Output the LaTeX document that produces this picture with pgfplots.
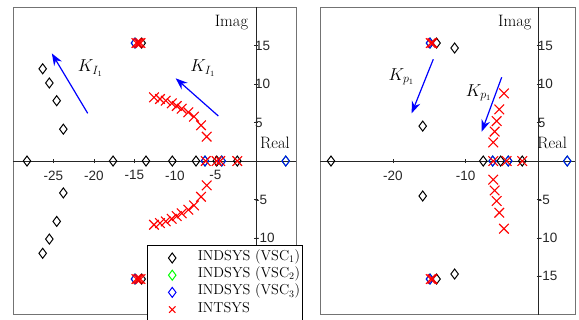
\documentclass[border=0pt]{standalone}
\usepackage{pgfplots}
\pgfplotsset{compat=1.18}
\usepackage{fontspec}
\newfontfamily\tickfont{Liberation Sans}
\usetikzlibrary{arrows.meta}
\definecolor{vgreen}{rgb}{0,1,0}
\definecolor{vblue}{rgb}{0,0,1}
\definecolor{vred}{rgb}{1,0,0}
\tikzset{
  lbl/.style={inner sep=0pt, font=\fontsize{16.5}{16.5}\selectfont},
  arr/.style={vblue, line width=1.2pt, -{Stealth[length=12pt, width=9pt, inset=4pt]}},
}
\begin{document}
\begin{tikzpicture}
\useasboundingbox (0,0) rectangle (579pt,320pt);
\pgfplotsset{
  pz/.style={
    scale only axis, height=307.5pt, anchor=south west,
    xmin=-30,xmax=5,ymin=-20,ymax=20,
    axis lines=middle, axis line style={-, black!85, line width=0.6pt},
    axis background/.style={draw=black!55, line width=0.9pt},
    ytick={-15,-10,-5,5,10,15},
    tick style={black!85, line width=0.6pt},
    major tick length=4pt,
    ticklabel style={font=\tickfont\fontsize{13.5}{13.5}\selectfont, text=black!85},
    /pgf/number format/assume math mode=true,
    yticklabel style={anchor=west, inner xsep=1pt},
    xticklabel style={yshift=-4pt},
  },
  vsc1/.style={only marks, mark=diamond, mark size=5pt, black, line width=1pt},
  vsc2/.style={only marks, mark=diamond, mark size=5pt, vgreen, line width=1pt},
  vsc3/.style={only marks, mark=diamond, mark size=5pt, vblue, line width=1pt},
  ints/.style={only marks, mark=x, mark size=6.8pt, vred, line width=1.1pt},
}
% ---------------- left panel ----------------
\begin{axis}[pz, width=283.3pt, at={(13pt,5.2pt)},
  xtick={-25,-20,-15,-10,-5},
  ytick={-10,-5,5,10,15},
  legend cell align=left,
  legend style={at={(axis description cs:0.474,0.227)}, anchor=north west,
    draw=black, line width=0.8pt, fill=white,
    font=\fontsize{14.4}{17}\selectfont,
    inner xsep=0pt, inner ysep=4pt, row sep=0pt,
    nodes={inner ysep=0pt, inner xsep=2pt, text height=11.2pt, text depth=6pt}},
  legend image code/.code={\path (-24pt,0) (23pt,0); \draw[#1] plot coordinates {(0pt,0pt)};},
]
\addplot[vsc1, forget plot] coordinates {
 (-28.27,0) (-17.64,0) (-13.57,0) (-10.32,0) (-7.39,0) (-4.83,0) (-2.29,0)
 (-26.33,12.0) (-25.51,10.15) (-24.6,7.85) (-23.78,4.15)
 (-26.33,-12.0) (-25.51,-10.15) (-24.6,-7.85) (-23.78,-4.15)
 (-14.1,15.35) (-14.1,-15.35)};
\addplot[vsc2, forget plot] coordinates {
 (-14.93,15.35) (-14.93,-15.35) (-6.28,0) (-4.21,0) (3.7,0)};
\addplot[vsc3, forget plot] coordinates {
 (-14.93,15.35) (-14.93,-15.35) (-6.28,0) (-4.21,0) (3.7,0)};
\addplot[ints, forget plot] coordinates {
 (-12.58,8.29) (-11.84,8.07) (-11.13,7.85) (-10.39,7.51) (-9.77,7.16)
 (-9.16,6.81) (-8.34,6.34) (-7.64,5.77) (-6.77,4.65) (-6.07,3.17)
 (-12.58,-8.29) (-11.84,-8.07) (-11.13,-7.85) (-10.39,-7.51) (-9.77,-7.16)
 (-9.16,-6.81) (-8.34,-6.34) (-7.64,-5.77) (-6.77,-4.65) (-6.07,-3.17)
 (-6.19,0) (-4.85,0) (-4.4,0) (-2.29,0)
 (-14.75,15.35) (-14.5,15.35) (-14.25,15.35)
 (-14.75,-15.35) (-14.5,-15.35) (-14.25,-15.35)};
\addlegendimage{vsc1}
\addlegendentry{INDSYS (VSC$_1$)}
\addlegendimage{vsc2}
\addlegendentry{INDSYS (VSC$_2$)}
\addlegendimage{vsc3}
\addlegendentry{INDSYS (VSC$_3$)}
\addlegendimage{ints, mark size=4.5pt}
\addlegendentry{INTSYS}
\node[lbl, anchor=base east] at (axis cs:-0.93,17.48) {Imag};
\node[lbl, anchor=base west] at (axis cs:0.52,1.66) {Real};
\node[lbl, anchor=base west] at (axis cs:-22.0,11.6) {$K_{I_1}$};
\node[lbl, anchor=base west] at (axis cs:-8.1,11.6) {$K_{I_1}$};
\draw[arr] (axis cs:-20.77,6.21) -- (axis cs:-25.2,14.0);
\draw[arr] (axis cs:-4.63,5.86) -- (axis cs:-9.9,10.76);
\end{axis}
% ---------------- right panel ----------------
\begin{axis}[pz, width=255pt, at={(320pt,5.2pt)},
  xtick={-20,-10},
]
\addplot[vsc1] coordinates {
 (-28.49,0) (-7.59,0) (-5.2,0) (-2.24,0)
 (-14.0,15.35) (-14.0,-15.35) (-11.52,14.7) (-11.52,-14.7)
 (-15.9,4.55) (-15.9,-4.55)};
\addplot[vsc2] coordinates {
 (-14.9,15.35) (-14.9,-15.35) (-6.3,0) (-4.16,0) (3.94,0)};
\addplot[vsc3] coordinates {
 (-14.9,15.35) (-14.9,-15.35) (-6.3,0) (-4.16,0) (3.94,0)};
\addplot[ints] coordinates {
 (-4.75,8.8) (-5.39,6.72) (-5.75,5.2) (-6.03,3.83) (-6.22,2.42)
 (-4.75,-8.8) (-5.39,-6.72) (-5.75,-5.2) (-6.03,-3.83) (-6.22,-2.42)
 (-6.22,0) (-4.38,0) (-2.24,0)
 (-14.8,15.35) (-14.55,15.35) (-14.8,-15.35) (-14.55,-15.35)};
\node[lbl, anchor=base east] at (axis cs:-0.95,17.48) {Imag};
\node[lbl, anchor=base west] at (axis cs:-0.18,1.66) {Real};
\node[lbl, anchor=base west] at (axis cs:-20.6,10.5) {$K_{p_1}$};
\node[lbl, anchor=base west] at (axis cs:-10.0,8.46) {$K_{p_1}$};
\draw[arr] (axis cs:-14.45,13.24) -- (axis cs:-17.42,6.21);
\draw[arr] (axis cs:-5.06,10.9) -- (axis cs:-7.81,3.82);
\end{axis}
\end{tikzpicture}
\end{document}
